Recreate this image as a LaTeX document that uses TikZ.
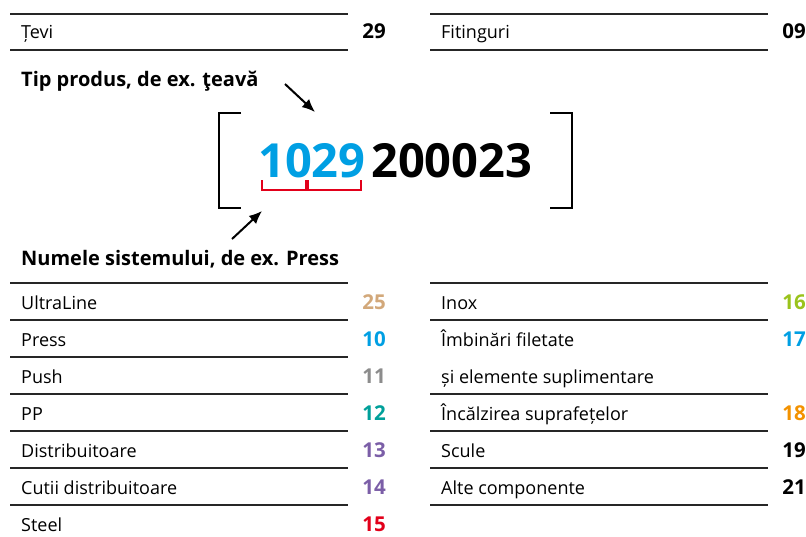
\documentclass[tikz,border=0pt]{standalone}
\usepackage{fontspec}
\setmainfont{Open Sans}
\usetikzlibrary{arrows.meta,positioning}
\definecolor{nrtan}{HTML}{D2A87A}
\definecolor{nrblue}{HTML}{009FE3}
\definecolor{nrgray}{HTML}{8C8C8C}
\definecolor{nrteal}{HTML}{00A09A}
\definecolor{nrpurple}{HTML}{7B5EA7}
\definecolor{nrred}{HTML}{E2001A}
\definecolor{nrgreen}{HTML}{9AC31C}
\definecolor{nrorange}{HTML}{F39200}
\begin{document}
\begin{tikzpicture}[x=1pt, y=-1pt,
  rule/.style={line width=1.3pt, black!85},
  item/.style={anchor=base west, inner sep=0pt, font=\fontsize{18}{21}\selectfont},
  nr/.style={anchor=base east, inner sep=0pt, font=\fontsize{20.5}{23}\selectfont\bfseries},
  head/.style={anchor=base west, inner sep=0pt, font=\fontsize{20}{24}\selectfont\bfseries},
  code/.style={anchor=base west, inner sep=0pt, font=\fontsize{47}{50}\selectfont\bfseries},
  brack/.style={line width=2pt},
  part/.style={line width=1.6pt, nrred},
  pointer/.style={-{Latex[length=13pt,width=11pt]}, line width=2pt}
]
\useasboundingbox (0,0) rectangle (806,536);
% Tip produs
\draw[rule] (10,14) -- (348,14);
\draw[rule] (10,50) -- (348,50);
\node[item] (tevi) at (21,38) {Țevi};
\node[nr] (tevinr) at (386,38) {29};
\draw[rule] (430,14) -- (768,14);
\draw[rule] (430,50) -- (768,50);
\node[item] (fit) at (441,38) {Fitinguri};
\node[nr] (fitnr) at (806,38) {09};
\node[head] (tiphead) at (21,86) {Tip produs, de ex. ţeavă};
% Codul articolului
\node[code, text=nrblue] (cod) at (258,177) {1029};
\node[code] (rest) at (371,177) {200023};
\draw[brack] (241,113) -- (219,113) -- (219,208) -- (241,208);
\draw[brack] (550,113) -- (572,113) -- (572,208) -- (550,208);
\draw[part] (262,180) -- (262,190) -- (306,190) -- (306,180);
\draw[part] (308,180) -- (308,190) -- (361,190) -- (361,180);
% Săgeți
\coordinate (tipstart) at (285,84);
\coordinate (tipend) at (315,112);
\coordinate (sysstart) at (232,239);
\coordinate (sysend) at (262,211);
\draw[pointer] (tipstart) -- (tipend);
\draw[pointer] (sysstart) -- (sysend);
\node[head] (syshead) at (21,265) {Numele sistemului, de ex. Press};
% Sisteme
\foreach \y/\txt/\nr/\col [count=\i] in {283/UltraLine/25/nrtan, 320/Press/10/nrblue,
    357/Push/11/nrgray, 394/PP/12/nrteal, 431/Distribuitoare/13/nrpurple,
    468/Cutii distribuitoare/14/nrpurple, 505/Steel/15/nrred} {
  \draw[rule] (10,\y) -- (348,\y);
  \node[item] (sys\i) at (21,\y+26) {\txt};
  \node[nr, text=\col] (sysnr\i) at (386,\y+26) {\nr};
}
% Fitinguri
\foreach \y/\txt/\nr/\col [count=\i] in {283/Inox/16/nrgreen, 320/Îmbinări filetate/17/nrblue,
    394/Încălzirea suprafețelor/18/nrorange, 431/Scule/19/black,
    468/Alte componente/21/black} {
  \draw[rule] (430,\y) -- (768,\y);
  \node[item] (fit\i) at (441,\y+26) {\txt};
  \node[nr, text=\col] (fitnr\i) at (806,\y+26) {\nr};
}
\node[item] (fitextra) at (441,383) {și elemente suplimentare};
\draw[rule] (430,505) -- (768,505);
\end{tikzpicture}
\end{document}
